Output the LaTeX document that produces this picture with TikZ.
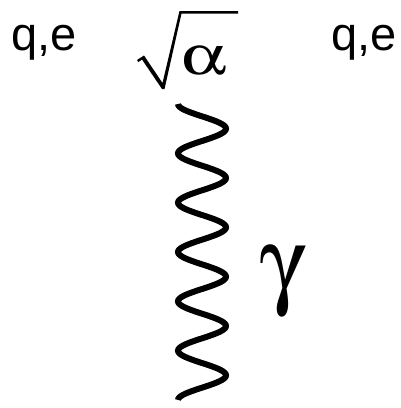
\documentclass[tikz,border=0pt]{standalone}
\usepackage{fontspec}
\usepackage{pifont}
\setmainfont{Liberation Sans}
\begin{document}
\begin{tikzpicture}[x=1pt,y=-1pt,
  lbl/.style={inner sep=0pt,anchor=base west,font=\fontsize{47}{47}\selectfont},
  greek/.style={inner sep=0pt,font=\fontsize{56}{56}\selectfont},
  wave/.style={line width=6pt}]
\useasboundingbox (0,0) rectangle (400,408);
\node[lbl] (qe1) at (11,50) {q,e};
\node[lbl] (qe2) at (331,50) {q,e};
% radical sign
\fill (137,60) -- (144,55.5) -- (162.5,83) -- (179.5,11) -- (238,11) -- (238,13.5)
  -- (181.5,13.5) -- (164.5,89) -- (162,89) -- (142,59.5) -- (138.5,62) -- cycle;
\node[greek,xscale=1.28] (alpha) at (204,61) {\Pisymbol{psy}{97}};
\coordinate (top) at (180,104);
\coordinate (bot) at (180,400);
\draw[wave] plot[domain=0:6,samples=241,smooth] ({202-24*cos(360*\x)},{104+49.333*\x});
\node[greek,font=\fontsize{90}{90}\selectfont,xscale=1.05,yscale=1.1] (gamma) at (280,282) {\Pisymbol{psy}{103}};
\end{tikzpicture}
\end{document}
